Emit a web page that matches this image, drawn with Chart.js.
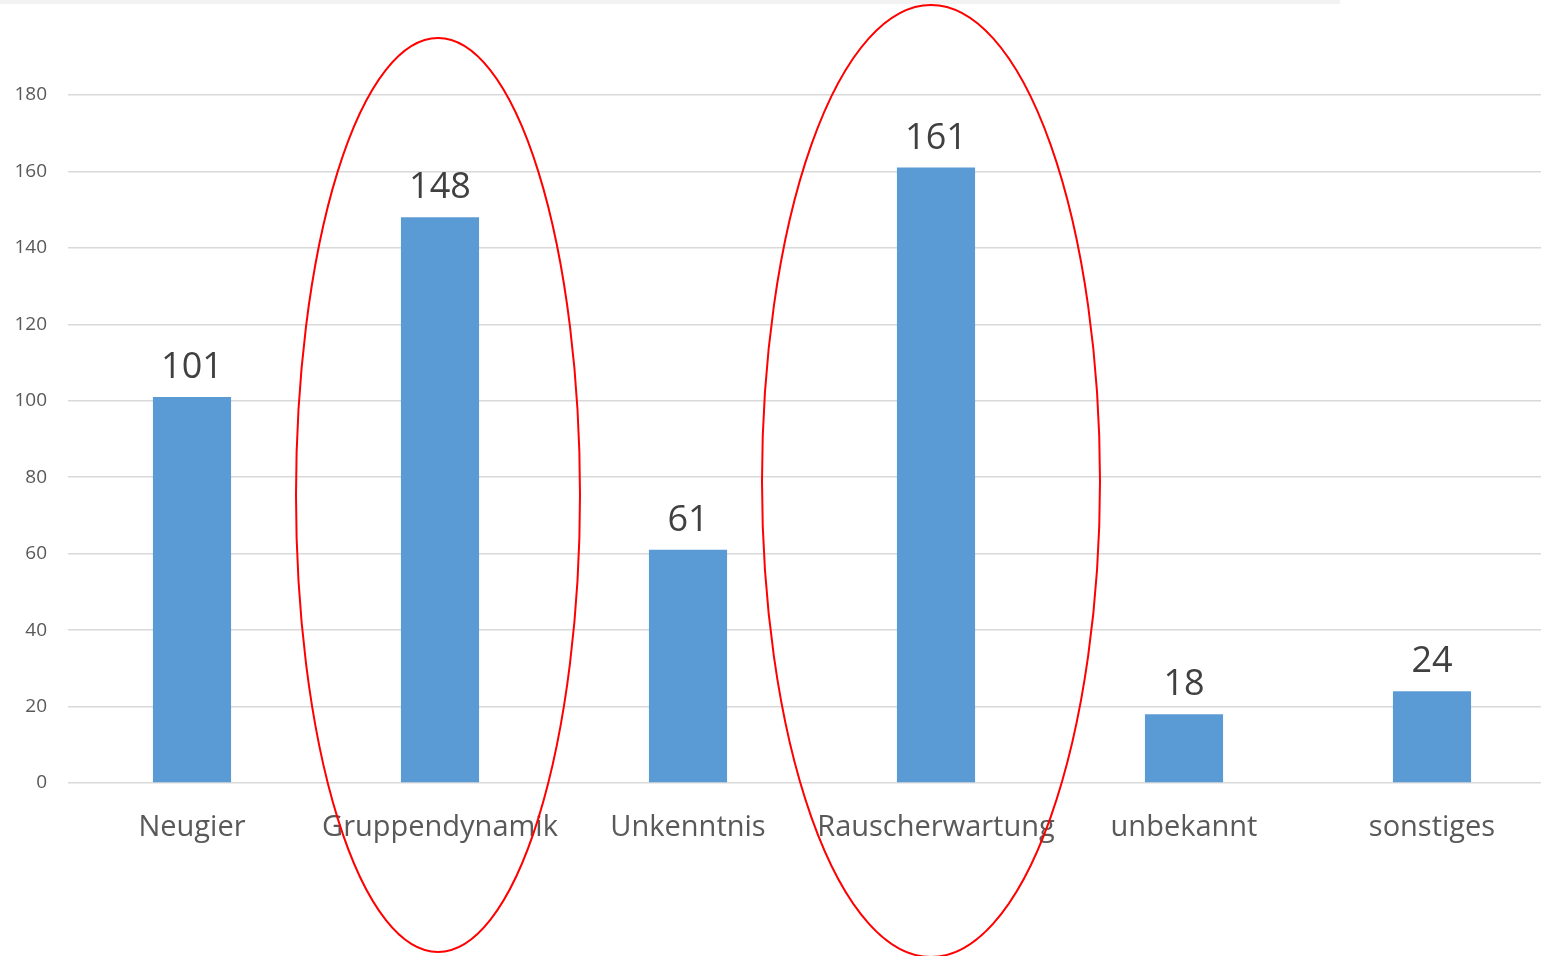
<!DOCTYPE html>
<html>
<head>
<meta charset="utf-8">
<script src="https://cdn.jsdelivr.net/npm/chart.js@4/dist/chart.umd.min.js"></script>
<style>
  html, body { margin: 0; padding: 0; background: #fff; overflow: hidden; }
  #topbar { position: absolute; left: 0; top: 0; width: 1340px; height: 4px; background: #f2f2f2; }
  #wrap { position: absolute; left: 0; top: 0; width: 1556px; height: 956px; }
</style>
</head>
<body>
<div id="wrap"><canvas id="diagram-gruende"></canvas></div>
<div id="topbar"></div>
<script>
const kategorien = ["Neugier", "Gruppendynamik", "Unkenntnis", "Rauscherwartung", "unbekannt", "sonstiges"];
const anzahl = [101, 148, 61, 161, 18, 24];
const yTicks = [0, 20, 40, 60, 80, 100, 120, 140, 160, 180];

// Wert ueber jedem Balken
const wertLabels = {
  id: "wertLabels",
  afterDatasetsDraw(chart) {
    const ctx = chart.ctx;
    const meta = chart.getDatasetMeta(0);
    ctx.save();
    ctx.font = "36px 'Open Sans', sans-serif";
    ctx.fillStyle = "#404040";
    ctx.textAlign = "center";
    ctx.textBaseline = "alphabetic";
    meta.data.forEach((bar, i) => {
      ctx.fillText(String(anzahl[i]), bar.x, bar.y - 19);
    });
    ctx.restore();
  }
};

// rote Ellipsen um Gruppendynamik und Rauscherwartung
const markierungen = {
  id: "markierungen",
  afterDraw(chart) {
    const ctx = chart.ctx;
    const x = chart.scales.x;
    const kreise = [
      { idx: 1, dx: -2, cy: 495, rx: 142, ry: 457 },
      { idx: 3, dx: -5, cy: 481, rx: 169, ry: 476 }
    ];
    ctx.save();
    ctx.strokeStyle = "#ff0000";
    ctx.lineWidth = 2;
    kreise.forEach(k => {
      ctx.beginPath();
      ctx.ellipse(x.getPixelForValue(k.idx) + k.dx, k.cy, k.rx, k.ry, 0, 0, Math.PI * 2);
      ctx.stroke();
    });
    ctx.restore();
  }
};

new Chart(document.getElementById("diagram-gruende").getContext("2d"), {
  type: "bar",
  data: {
    labels: kategorien,
    datasets: [
      {
        label: "Gründe",
        data: anzahl,
        backgroundColor: "#5b9bd5",
        borderWidth: 0,
        categoryPercentage: 1,
        barPercentage: 0.315,
      },
    ],
  },
  options: {
    responsive: true,
    maintainAspectRatio: false,
    animation: false,
    layout: { padding: { top: 95, right: 0, bottom: 0, left: 0 } },
    plugins: {
      legend: { display: false },
      tooltip: { enabled: false },
    },
    scales: {
      x: {
        grid: { display: false, drawTicks: false },
        border: { display: false },
        ticks: {
          padding: 27,
          color: "#595959",
          font: { family: "'Open Sans', sans-serif", size: 29 },
          maxRotation: 0,
          autoSkip: false,
        },
        afterFit(scale) { scale.height = 173; },
      },
      y: {
        min: 0,
        max: 180,
        afterBuildTicks(scale) { scale.ticks = yTicks.map(v => ({ value: v })); },
        grid: { color: "#d9d9d9", lineWidth: 1.5, drawTicks: false },
        border: { display: false },
        ticks: {
          padding: 21,
          color: "#595959",
          font: { family: "'Open Sans', sans-serif", size: 19 },
        },
        afterFit(scale) { scale.width = 68; },
      },
    },
  },
  plugins: [wertLabels, markierungen],
});
</script>
</body>
</html>
